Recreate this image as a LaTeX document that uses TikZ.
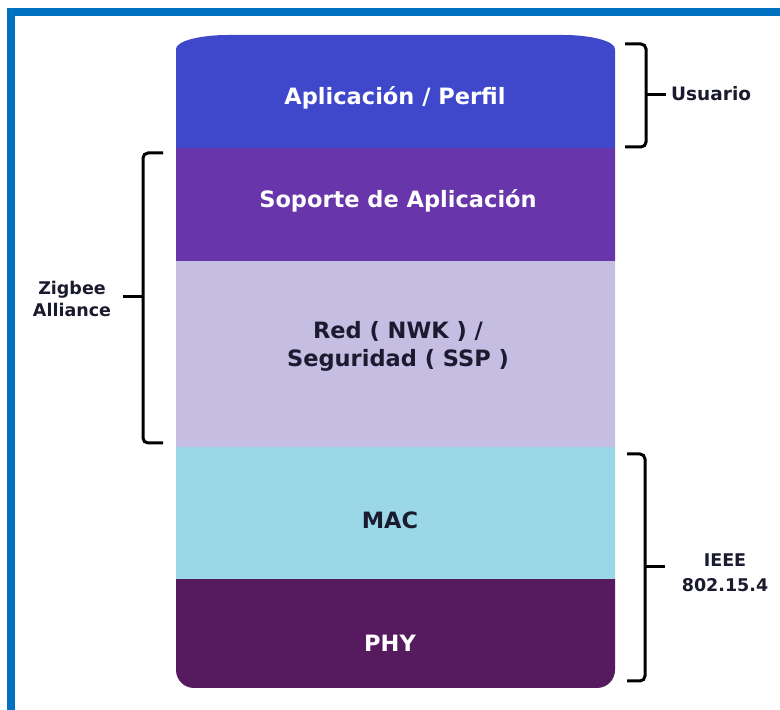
\documentclass[tikz,border=0pt]{standalone}
\usepackage{fontspec}
\setmainfont{DejaVu Sans}
\definecolor{frameblue}{HTML}{0070C0}
\definecolor{appblue}{HTML}{3F48CA}
\definecolor{apsviolet}{HTML}{6935AA}
\definecolor{nwklav}{HTML}{C6BDE3}
\definecolor{macsky}{HTML}{9AD8E8}
\definecolor{phyplum}{HTML}{561B5E}
\definecolor{inkdark}{HTML}{1B1B2F}
\tikzset{
  lightlabel/.style={font=\bfseries\fontsize{22.5}{28}\selectfont, text=white, align=center, inner sep=0pt},
  darklabel/.style={font=\bfseries\fontsize{22.5}{28}\selectfont, text=inkdark, align=center, inner sep=0pt},
  sidelabel/.style={font=\bfseries\fontsize{17.5}{23}\selectfont, text=inkdark, align=center, inner sep=0pt},
  brace/.style={draw=black, line width=3pt, rounded corners=5pt},
  tick/.style={draw=black, line width=3pt},
}
\begin{document}
\begin{tikzpicture}[x=1pt,y=1pt]
\useasboundingbox (0,0) rectangle (780,710);
% outer frame (top and left edges)
\fill[frameblue] (7,694) rectangle (780,702);
\fill[frameblue] (7,0) rectangle (15,702);

% protocol stack, clipped to its rounded outline
\begin{scope}
  \clip (176,661) arc[start angle=180, end angle=90, x radius=52, y radius=14]
        -- (563,675) arc[start angle=90, end angle=0, x radius=52, y radius=14]
        -- (615,40) arc[start angle=0, end angle=-90, radius=18]
        -- (194,22) arc[start angle=270, end angle=180, radius=18] -- cycle;
  \fill[appblue]   (170,562) rectangle (620,680);
  \fill[apsviolet] (170,449) rectangle (620,562);
  \fill[nwklav]    (170,263) rectangle (620,449);
  \fill[macsky]    (170,131) rectangle (620,263);
  \fill[phyplum]   (170,15)  rectangle (620,131);
\end{scope}

% layer names (multi-line nodes sit on their last baseline)
\node[lightlabel, anchor=base] (app) at (395,605) {Aplicación / Perfil};
\node[lightlabel, anchor=base] (aps) at (398,502) {Soporte de Aplicación};
\node[darklabel,  anchor=base] (nwk) at (398,343) {Red ( NWK ) /\\Seguridad ( SSP )};
\node[darklabel,  anchor=base] (mac) at (390,181) {MAC};
\node[lightlabel, anchor=base] (phy) at (390,58)  {PHY};

% brace: Usuario
\draw[brace] (625,666) -- (646,666) -- (646,563) -- (625,563);
\coordinate (usr) at (646,615);
\draw[tick] (usr) -- ++(20,0);
\node[sidelabel, anchor=base west, font=\bfseries\fontsize{18.5}{23}\selectfont] (usuario) at (671,609) {Usuario};

% brace: Zigbee Alliance
\draw[brace] (163,557) -- (143,557) -- (143,267) -- (163,267);
\coordinate (zb) at (143,413);
\draw[tick] (zb) -- ++(-20,0);
\node[sidelabel, anchor=base, font=\bfseries\fontsize{17.5}{22}\selectfont] (zigbee) at (72,393) {Zigbee\\Alliance};

% brace: IEEE 802.15.4
\draw[brace] (627,256) -- (645,256) -- (645,29) -- (627,29);
\coordinate (ieee) at (645,143);
\draw[tick] (ieee) -- ++(20,0);
\node[sidelabel, anchor=base, font=\bfseries\fontsize{17.5}{25}\selectfont] (std) at (725,118) {IEEE\\802.15.4};
\end{tikzpicture}
\end{document}
